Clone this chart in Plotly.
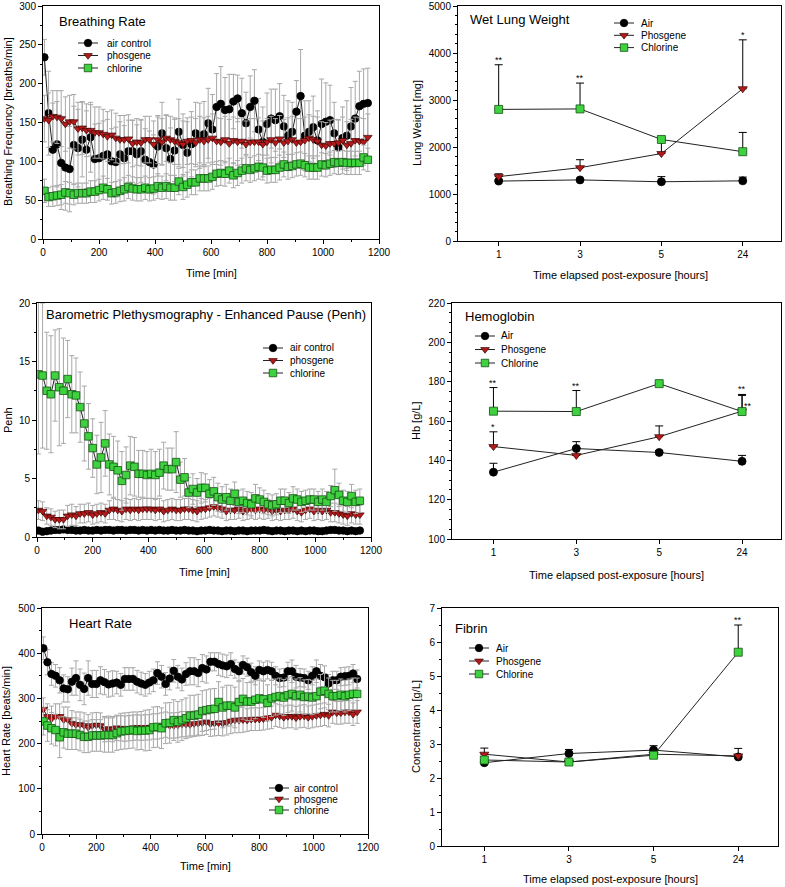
import plotly.graph_objects as go

# ---------------- data ----------------
TIME = [5, 20, 35, 50, 65, 80, 95, 110, 125, 140,
        155, 170, 185, 200, 215, 230, 245, 260, 275, 290,
        305, 320, 335, 350, 365, 380, 395, 410, 425, 440,
        455, 470, 485, 500, 515, 530, 545, 560, 575, 590,
        605, 620, 635, 650, 665, 680, 695, 710, 725, 740,
        755, 770, 785, 800, 815, 830, 845, 860, 875, 890,
        905, 920, 935, 950, 965, 980, 995, 1010, 1025, 1040,
        1055, 1070, 1085, 1100, 1115, 1130, 1145, 1160]

# breathing rate [breaths/min]
br_air = [234, 162, 115, 122, 98, 92, 90, 121, 117, 128,
          115, 131, 103, 104, 107, 109, 100, 99, 109, 104,
          113, 113, 109, 113, 102, 99, 96, 119, 136, 117,
          103, 114, 138, 121, 111, 122, 136, 133, 135, 149,
          141, 170, 174, 166, 167, 177, 181, 162, 149, 170,
          178, 141, 125, 148, 155, 153, 158, 145, 133, 138,
          164, 184, 133, 138, 144, 127, 148, 151, 153, 136,
          118, 130, 133, 145, 155, 171, 174, 175]
br_air_err = [23, 54, 60, 55, 60, 55, 55, 50, 50, 48,
              50, 45, 45, 45, 45, 45, 42, 45, 42, 42,
              40, 40, 38, 40, 40, 40, 38, 38, 40, 42,
              40, 40, 42, 40, 40, 42, 40, 42, 42, 45,
              45, 43, 48, 42, 45, 35, 30, 45, 40, 40,
              40, 40, 45, 40, 38, 40, 42, 40, 45, 38,
              40, 60, 45, 40, 40, 38, 58, 50, 45, 40,
              35, 40, 45, 50, 48, 45, 45, 45]
br_phos = [155, 153, 158, 157, 155, 148, 151, 151, 142, 143,
           140, 140, 137, 137, 135, 132, 134, 130, 128, 128,
           129, 123, 125, 124, 128, 128, 122, 128, 125, 130,
           128, 126, 124, 122, 126, 127, 124, 128, 126, 128,
           130, 126, 125, 128, 123, 127, 125, 126, 122, 125,
           125, 125, 122, 125, 128, 124, 129, 124, 126, 128,
           124, 125, 127, 130, 128, 126, 121, 120, 123, 123,
           124, 127, 121, 123, 127, 126, 125, 131]
br_phos_err = [30, 35, 33, 34, 36, 35, 34, 35, 34, 34,
               34, 33, 33, 33, 32, 32, 32, 32, 31, 31,
               31, 30, 30, 30, 30, 30, 30, 31, 30, 30,
               30, 30, 31, 30, 30, 30, 31, 30, 30, 30,
               31, 30, 30, 30, 31, 30, 30, 30, 30, 30,
               30, 31, 30, 30, 30, 31, 30, 30, 30, 30,
               31, 30, 30, 30, 30, 31, 30, 30, 30, 31,
               30, 30, 30, 31, 30, 30, 30, 30]
br_cl = [62, 54, 55, 56, 57, 60, 59, 57, 59, 59,
         59, 61, 61, 63, 66, 64, 59, 60, 62, 64,
         67, 65, 64, 64, 66, 64, 65, 68, 66, 68,
         66, 66, 74, 67, 70, 73, 73, 78, 78, 78,
         80, 84, 85, 84, 88, 82, 85, 88, 91, 89,
         91, 93, 92, 88, 89, 89, 92, 96, 93, 94,
         96, 97, 95, 92, 92, 92, 96, 95, 97, 99,
         98, 99, 98, 98, 98, 98, 105, 102]
br_cl_err = [15, 12, 13, 13, 13, 14, 14, 13, 13, 13,
             13, 14, 14, 14, 15, 14, 14, 14, 14, 15,
             15, 15, 15, 15, 15, 15, 15, 16, 15, 16,
             16, 16, 17, 16, 16, 16, 16, 16, 16, 16,
             16, 16, 16, 16, 16, 16, 16, 16, 16, 16,
             16, 16, 16, 16, 16, 16, 16, 16, 16, 15,
             15, 15, 15, 15, 15, 15, 15, 15, 15, 15,
             15, 15, 15, 15, 15, 15, 16, 15]

# Penh
pe_air = [0.55, 0.45, 0.5, 0.55, 0.6, 0.6, 0.65, 0.6, 0.6, 0.55,
          0.55, 0.6, 0.55, 0.55, 0.6, 0.55, 0.6, 0.6, 0.55, 0.6,
          0.6, 0.55, 0.6, 0.6, 0.55, 0.6, 0.55, 0.6, 0.55, 0.6,
          0.55, 0.55, 0.6, 0.55, 0.55, 0.6, 0.55, 0.55, 0.5, 0.55,
          0.55, 0.6, 0.55, 0.55, 0.5, 0.55, 0.55, 0.5, 0.55, 0.55,
          0.5, 0.55, 0.55, 0.55, 0.6, 0.55, 0.5, 0.55, 0.55, 0.5,
          0.55, 0.55, 0.5, 0.55, 0.5, 0.55, 0.55, 0.5, 0.5, 0.55,
          0.6, 0.6, 0.55, 0.55, 0.5, 0.55, 0.5, 0.55]
pe_air_err = [0.1] * 78
pe_phos = [2.3, 2.2, 1.8, 1.7, 1.5, 1.5, 1.5, 1.8, 1.9, 1.8,
           2.0, 2.0, 2.1, 1.9, 2.0, 2.1, 2.0, 2.3, 2.4, 2.3,
           2.2, 2.4, 2.3, 2.4, 2.3, 2.4, 2.4, 2.4, 2.3, 2.4,
           2.2, 2.3, 2.4, 2.3, 2.3, 2.4, 2.4, 2.3, 2.2, 2.4,
           2.4, 2.5, 2.6, 2.5, 2.4, 2.2, 2.3, 2.3, 2.4, 2.2,
           2.3, 2.4, 2.3, 2.4, 2.3, 2.4, 2.2, 2.3, 2.2, 2.3,
           2.3, 2.4, 2.2, 2.1, 2.3, 2.4, 2.2, 2.3, 2.2, 2.3,
           2.1, 2.1, 2.0, 1.9, 1.8, 2.0, 1.9, 1.9]
pe_phos_err = [0.8, 0.8, 0.7, 0.7, 0.7, 0.8, 0.8, 0.9, 0.9, 0.8,
               0.8, 0.8, 0.8, 0.8, 0.8, 0.8, 0.8, 0.8, 0.9, 0.9,
               0.9, 0.9, 0.9, 0.9, 0.9, 0.9, 0.9, 0.9, 0.9, 0.9,
               0.9, 0.9, 0.9, 0.9, 0.9, 0.9, 0.9, 0.9, 0.9, 0.9,
               0.8, 0.8, 0.8, 0.8, 0.8, 0.8, 0.8, 0.8, 0.8, 0.8,
               0.8, 0.8, 0.8, 0.8, 0.8, 0.8, 0.8, 0.8, 0.8, 0.8,
               0.8, 0.8, 0.8, 0.8, 0.8, 0.8, 0.8, 0.8, 0.8, 0.8,
               0.8, 0.8, 0.8, 0.8, 0.8, 0.8, 0.8, 0.8]
pe_cl = [13.9, 13.8, 12.5, 12.2, 13.8, 12.8, 12.5, 13.5, 12.2, 12.1,
         11.1, 9.7, 8.6, 7.6, 6.2, 6.8, 8.0, 6.2, 6.0, 5.7,
         4.8, 5.3, 6.1, 6.0, 5.4, 5.4, 5.3, 5.4, 5.3, 5.5,
         6.1, 5.8, 5.8, 6.4, 4.9, 5.1, 3.8, 4.1, 3.8, 4.2,
         4.2, 3.7, 3.9, 3.4, 3.2, 3.4, 3.1, 3.7, 3.0, 3.1,
         2.9, 2.8, 3.3, 3.2, 3.0, 2.8, 2.7, 2.8, 3.1, 3.1,
         2.9, 3.3, 3.2, 3.0, 3.1, 3.2, 3.2, 3.0, 3.2, 3.0,
         3.5, 4.0, 3.6, 3.1, 3.0, 3.5, 3.0, 3.1]
pe_cl_err = [6.8, 6.2, 5.0, 5.0, 3.9, 5.0, 4.5, 3.3, 3.3, 3.2,
             3.0, 3.2, 2.8, 2.5, 2.5, 3.0, 2.8, 2.6, 2.6, 2.5,
             2.5, 2.4, 2.5, 2.5, 2.0, 2.0, 2.0, 2.1, 2.0, 2.0,
             2.0, 1.8, 1.8, 2.6, 1.5, 1.6, 1.3, 1.3, 1.2, 1.3,
             1.2, 1.2, 1.2, 1.2, 1.1, 1.1, 1.0, 1.0, 1.0, 1.0,
             1.0, 1.0, 1.2, 1.0, 1.0, 0.9, 0.9, 0.9, 1.0, 1.0,
             0.9, 1.0, 0.9, 0.9, 0.9, 0.9, 0.9, 0.9, 0.9, 0.9,
             0.9, 1.8, 1.0, 0.9, 0.9, 1.0, 1.0, 1.0]

# heart rate [beats/min]
hr_air = [411, 380, 354, 350, 340, 322, 320, 337, 345, 330,
          321, 345, 332, 332, 340, 336, 331, 333, 335, 330,
          343, 343, 343, 337, 333, 330, 335, 340, 356, 348,
          332, 344, 361, 348, 342, 354, 360, 360, 356, 367,
          364, 381, 381, 376, 373, 371, 376, 365, 360, 374,
          369, 358, 350, 363, 360, 363, 360, 350, 345, 346,
          360, 360, 348, 346, 345, 340, 350, 360, 350, 347,
          333, 340, 340, 348, 349, 350, 355, 343]
hr_air_err = [25, 28, 25, 25, 28, 30, 28, 30, 38, 35,
              35, 38, 30, 30, 30, 28, 28, 28, 25, 25,
              25, 25, 25, 25, 25, 25, 25, 25, 25, 25,
              25, 25, 25, 25, 25, 25, 30, 30, 30, 30,
              30, 20, 20, 25, 25, 25, 25, 20, 20, 20,
              20, 20, 20, 20, 20, 20, 20, 20, 20, 20,
              20, 25, 25, 20, 20, 20, 20, 25, 25, 25,
              20, 20, 20, 20, 20, 20, 20, 20]
hr_phos = [276, 260, 255, 260, 260, 253, 253, 245, 242, 242,
           240, 236, 240, 241, 240, 232, 233, 232, 235, 234,
           233, 234, 235, 236, 235, 236, 236, 238, 238, 240,
           242, 240, 240, 241, 243, 243, 242, 244, 245, 246,
           248, 244, 245, 246, 245, 247, 250, 252, 252, 253,
           252, 254, 254, 254, 255, 257, 258, 263, 261, 258,
           260, 260, 257, 260, 261, 258, 260, 262, 263, 265,
           262, 270, 268, 268, 270, 270, 265, 270]
hr_phos_err = [25, 28, 28, 28, 28, 28, 28, 28, 28, 28,
               28, 28, 28, 28, 28, 28, 28, 28, 28, 28,
               28, 28, 28, 28, 28, 28, 28, 28, 28, 28,
               28, 28, 28, 28, 28, 28, 28, 28, 28, 28,
               28, 28, 28, 28, 28, 28, 28, 28, 28, 28,
               25, 25, 25, 25, 25, 25, 25, 25, 25, 25,
               25, 25, 25, 25, 25, 25, 25, 25, 25, 25,
               25, 25, 25, 25, 25, 25, 25, 25]
hr_cl = [249, 240, 234, 230, 214, 225, 222, 222, 222, 219,
         215, 215, 218, 218, 218, 219, 219, 219, 223, 227,
         228, 229, 230, 228, 229, 229, 230, 236, 237, 234,
         245, 246, 252, 248, 252, 256, 262, 262, 264, 272,
         274, 276, 277, 292, 280, 284, 284, 280, 292, 299,
         293, 293, 297, 300, 298, 290, 300, 303, 305, 302,
         307, 310, 305, 308, 303, 304, 302, 305, 315, 317,
         310, 305, 305, 308, 305, 308, 310, 310]
hr_cl_err = [30, 35, 35, 35, 45, 35, 35, 35, 35, 35,
             35, 35, 35, 35, 35, 38, 38, 38, 38, 40,
             40, 40, 40, 42, 42, 45, 45, 45, 45, 45,
             45, 45, 45, 45, 45, 45, 45, 45, 45, 45,
             45, 45, 45, 45, 45, 45, 45, 45, 45, 45,
             42, 42, 42, 40, 40, 40, 40, 40, 40, 40,
             38, 38, 38, 38, 38, 38, 38, 38, 38, 38,
             35, 35, 35, 35, 35, 35, 35, 35]

# post-exposure time points [hours]
HOURS = ["1", "3", "5", "24"]

lw_air = [1275, 1300, 1260, 1280]
lw_air_err = [30, 20, 110, 80]
lw_phos = [1370, 1560, 1860, 3240]
lw_phos_err = [60, 170, 300, 1040]
lw_cl = [2800, 2810, 2160, 1900]
lw_cl_err = [950, 550, 40, 410]

hb_air = [134, 146, 144, 139.5]
hb_air_err = [4.5, 3.5, 1, 3]
hb_phos = [147, 142.5, 152, 165]
hb_phos_err = [7.5, 4, 5.5, 8]
hb_cl = [165, 164.8, 179, 164.8]
hb_cl_err = [12, 10.7, 0.5, 8.7]

fb_air = [2.45, 2.72, 2.82, 2.62]
fb_air_err = [0.05, 0.12, 0.13, 0.05]
fb_phos = [2.70, 2.47, 2.70, 2.65]
fb_phos_err = [0.18, 0.05, 0.1, 0.22]
fb_cl = [2.53, 2.47, 2.67, 5.70]
fb_cl_err = [0.1, 0.05, 0.05, 0.8]

TS_NAMES = ["air control", "phosgene", "chlorine"]
PE_NAMES = ["Air", "Phosgene", "Chlorine"]

# ---------------- styling ----------------
FONT = "Arial, Liberation Sans, sans-serif"
W, H = 785, 887
KINDS = ["air", "phos", "cl"]
MARK = {
    "air": dict(symbol="circle", color="black", line=dict(color="black", width=0.8)),
    "phos": dict(symbol="triangle-down", color="#b51a1a", line=dict(color="#3a0000", width=0.7)),
    "cl": dict(symbol="square", color="#3fd23f", line=dict(color="#145214", width=0.8)),
}

fig = go.Figure()


def add_series(x, y, err, kind, name, n, onesided=False):
    ax = "" if n == 1 else str(n)
    if onesided:
        ey = dict(type="data", array=err, arrayminus=[0] * len(err), symmetric=False,
                  color="black", thickness=1, width=4)
    else:
        ey = dict(type="data", array=err, color="#a8a8a8", thickness=1, width=2.5)
    fig.add_trace(go.Scatter(
        x=x, y=y, name=name, mode="lines+markers", showlegend=False,
        line=dict(color="#222222", width=1),
        marker=dict(size=7.5 if not onesided else 8, **MARK[kind]),
        error_y=ey, xaxis="x" + ax, yaxis="y" + ax,
    ))


cat_idx = list(range(len(HOURS)))

for n, data in [
    (1, [(br_air, br_air_err), (br_phos, br_phos_err), (br_cl, br_cl_err)]),
    (3, [(pe_air, pe_air_err), (pe_phos, pe_phos_err), (pe_cl, pe_cl_err)]),
    (5, [(hr_air, hr_air_err), (hr_phos, hr_phos_err), (hr_cl, hr_cl_err)]),
]:
    for (y, e), kind, name in zip(data, KINDS, TS_NAMES):
        add_series(TIME, y, e, kind, name, n)

for n, data in [
    (2, [(lw_air, lw_air_err), (lw_phos, lw_phos_err), (lw_cl, lw_cl_err)]),
    (4, [(hb_air, hb_air_err), (hb_phos, hb_phos_err), (hb_cl, hb_cl_err)]),
    (6, [(fb_air, fb_air_err), (fb_phos, fb_phos_err), (fb_cl, fb_cl_err)]),
]:
    for (y, e), kind, name in zip(data, KINDS, PE_NAMES):
        add_series(cat_idx, y, e, kind, name, n, onesided=True)


def px_x(a, b):
    return [a / W, b / W]


def px_y(top, bottom):
    return [1 - bottom / H, 1 - top / H]


domains = {
    1: (px_x(43, 379), px_y(6, 239)),
    2: (px_x(458, 781), px_y(6, 241)),
    3: (px_x(37, 371), px_y(303, 537)),
    4: (px_x(452, 781), px_y(303, 539)),
    5: (px_x(42, 368), px_y(608, 834)),
    6: (px_x(442, 778), px_y(608, 846)),
}
yranges = {1: (0, 300, 50, 25), 2: (0, 5000, 1000, 200), 3: (0, 20, 5, 2.5),
           4: (100, 220, 20, 5), 5: (0, 500, 100, 50), 6: (0, 7, 1, 0.5)}

axis_common = dict(showline=True, linecolor="black", linewidth=1, mirror=True,
                   ticks="outside", ticklen=4, tickcolor="black", showgrid=False,
                   zeroline=False, automargin=False,
                   tickfont=dict(family=FONT, size=10, color="black"))

layout = {}
for n in range(1, 7):
    ax = "" if n == 1 else str(n)
    xd, yd = domains[n]
    y0, y1, dt, mdt = yranges[n]
    if n % 2 == 1:
        xa = dict(domain=xd, range=[0, 1200], dtick=200,
                  minor=dict(ticks="outside", ticklen=2, dtick=100, tickcolor="black"),
                  anchor="y" + ax, **axis_common)
    else:
        xa = dict(domain=xd, range=[-0.5, 3.47], tickmode="array", tickvals=cat_idx,
                  ticktext=HOURS, anchor="y" + ax, **axis_common)
    ya = dict(domain=yd, range=[y0, y1], dtick=dt, tick0=y0,
              minor=dict(ticks="outside", ticklen=2, dtick=mdt, tickcolor="black"),
              anchor="x" + ax, **axis_common)
    layout["xaxis" + ax] = xa
    layout["yaxis" + ax] = ya

# overlay in page pixels, used only for the legend keys
layout["xaxis7"] = dict(domain=[0, 1], range=[0, W], visible=False, fixedrange=True,
                        automargin=False, anchor="y7")
layout["yaxis7"] = dict(domain=[0, 1], range=[H, 0], visible=False, fixedrange=True,
                        automargin=False, anchor="x7")

annotations = []


def note(text, x, y, size, xanchor="left", yanchor="middle", angle=0):
    annotations.append(dict(text=text, x=x / W, y=1 - y / H, xref="paper", yref="paper",
                            showarrow=False, xanchor=xanchor, yanchor=yanchor, textangle=angle,
                            font=dict(family=FONT, size=size, color="black")))


# legend keys: (marker centre x, first row y, row step, text x)
legends = [
    (TS_NAMES, 88, 43, 12.5, 105),
    (PE_NAMES, 624, 23, 12.3, 639),
    (TS_NAMES, 273, 348, 12.5, 288),
    (PE_NAMES, 485, 336, 13.5, 499),
    (TS_NAMES, 279, 788, 11, 292),
    (PE_NAMES, 479, 648, 13, 494),
]
for names, mx, my, step, tx in legends:
    for i, (name, kind) in enumerate(zip(names, KINDS)):
        yy = my + i * step
        fig.add_trace(go.Scatter(
            x=[mx - 10, mx + 10], y=[yy, yy], mode="lines",
            line=dict(color="#222222", width=1),
            showlegend=False, hoverinfo="skip", xaxis="x7", yaxis="y7"))
        fig.add_trace(go.Scatter(
            x=[mx], y=[yy], mode="markers", marker=dict(size=7.5, **MARK[kind]),
            showlegend=False, hoverinfo="skip", xaxis="x7", yaxis="y7"))
        note(name, tx, yy, 10)

# panel titles
note("Breathing Rate", 57, 22, 13)
note("Wet Lung Weight", 468, 19, 13)
note("Barometric Plethysmography - Enhanced Pause (Penh)", 44, 314, 13)
note("Hemoglobin", 463, 316, 13)
note("Heart Rate", 67, 623, 13)
note("Fibrin", 453, 628, 13)

# axis titles
note("Breathing Frequency [breaths/min]", 8, 122, 11, xanchor="center", angle=-90)
note("Time [min]", 211, 273, 11, xanchor="center")
note("Lung Weight [mg]", 417, 123, 11, xanchor="center", angle=-90)
note("Time elapsed post-exposure [hours]", 620, 275, 11, xanchor="center")
note("Penh", 8, 420, 11, xanchor="center", angle=-90)
note("Time [min]", 204, 572, 11, xanchor="center")
note("Hb [g/L]", 416, 421, 11, xanchor="center", angle=-90)
note("Time elapsed post-exposure [hours]", 616, 575, 11, xanchor="center")
note("Heart Rate [beats/min]", 6, 721, 11, xanchor="center", angle=-90)
note("Time [min]", 205, 866, 11, xanchor="center")
note("Concentration [g/L]", 416, 727, 11, xanchor="center", angle=-90)
note("Time elapsed post-exposure [hours]", 610, 879, 11, xanchor="center")


# significance marks above error caps
def star(n, i, top, text, dx=0.0):
    ax = "" if n == 1 else str(n)
    annotations.append(dict(text=text, x=cat_idx[i] + dx, y=top, xref="x" + ax, yref="y" + ax,
                            showarrow=False, xanchor="center", yanchor="bottom", yshift=-2,
                            font=dict(family=FONT, size=9, color="black")))


star(2, 0, lw_cl[0] + lw_cl_err[0], "**")
star(2, 1, lw_cl[1] + lw_cl_err[1], "**")
star(2, 3, lw_phos[3] + lw_phos_err[3], "*")
star(4, 0, hb_phos[0] + hb_phos_err[0], "*")
star(4, 0, hb_cl[0] + hb_cl_err[0], "**")
star(4, 1, hb_cl[1] + hb_cl_err[1], "**")
star(4, 3, hb_cl[3] + hb_cl_err[3], "**")
star(4, 3, hb_phos[3], "**", dx=0.07)
star(6, 3, fb_cl[3] + fb_cl_err[3], "**")

fig.update_layout(
    width=W, height=H, margin=dict(l=0, r=0, t=0, b=0),
    paper_bgcolor="white", plot_bgcolor="rgba(0,0,0,0)",
    font=dict(family=FONT, size=10, color="black"),
    showlegend=False, annotations=annotations, **layout,
)

# the page's default body margin would push the figure 8px off the window
fig.write_html("out.html", config={"displayModeBar": False},
               post_script="document.body.style.margin='0';document.body.style.overflow='hidden';")
